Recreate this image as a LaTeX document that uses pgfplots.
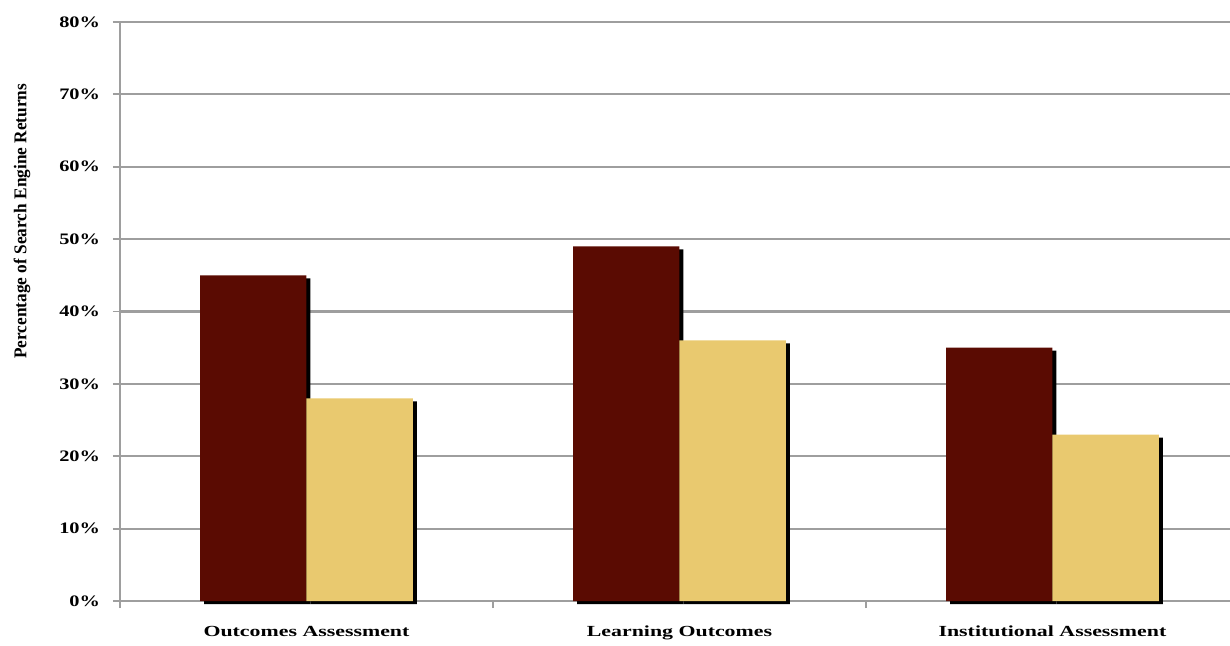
\documentclass[border=0pt]{standalone}
\usepackage{fontspec}
\setmainfont{Liberation Serif}
\usepackage{graphicx}
\usepackage{pgfplots}
\pgfplotsset{compat=1.18}

\definecolor{maroon}{HTML}{5A0B02}
\definecolor{sand}{HTML}{E9C96F}
\definecolor{gridgray}{HTML}{9E9E9E}
% bold, horizontally widened lettering
\newcommand\wide[1]{\scalebox{1.27}[1]{\bfseries #1}}
\newcommand\widecat[1]{\scalebox{1.42}[1]{\bfseries #1}}

\pgfplotstableread{
x first second
0 45 28
1 49 36
2 35 23
}\returns

\begin{document}
\begin{tikzpicture}
\begin{axis}[
  name=main, at={(0,0)}, anchor=south west,
  scale only axis, width=555pt, height=289.5pt,
  xmin=-0.5, xmax=2.476, ymin=0, ymax=80,
  clip=false,
  axis lines=left,
  axis line style={-, draw=gridgray, line width=0.9pt},
  tick align=outside,
  major tick length=3.5pt,
  tick style={draw=gridgray, line width=0.9pt},
  ymajorgrids,
  grid style={draw=gridgray, line width=0.9pt},
  ytick={0,10,...,80},
  yticklabels={\wide{0\%},\wide{10\%},\wide{20\%},\wide{30\%},\wide{40\%},\wide{50\%},\wide{60\%},\wide{70\%},\wide{80\%}},
  yticklabel style={font=\fontsize{8}{9.6}\selectfont, xshift=-3pt},
  xtick={-0.5,0.5,1.5},
  xticklabels={},
  extra x ticks={0,1,2},
  extra x tick labels={\widecat{Outcomes Assessment},\widecat{Learning Outcomes},\widecat{Institutional Assessment}},
  extra x tick style={major tick length=0pt, grid=none,
    xticklabel style={font=\fontsize{7.7}{9}\selectfont, anchor=north, yshift=-9pt}},
  bar width=0.285,
]
% stronger rule at 40%
\draw[gridgray, line width=1.3pt] (axis cs:-0.5,40) -- (axis cs:2.476,40);
% drop shadows
\addplot[ybar, bar shift=-0.1425, fill=black, draw=none, xshift=2pt, yshift=-1.5pt] table[x=x, y=first]{\returns};
\addplot[ybar, bar shift=0.1425, fill=black, draw=none, xshift=2pt, yshift=-1.5pt] table[x=x, y=second]{\returns};
% bars
\addplot[ybar, bar shift=-0.1425, fill=maroon, draw=none] table[x=x, y=first]{\returns};
\addplot[ybar, bar shift=0.1425, fill=sand, draw=none] table[x=x, y=second]{\returns};
\node[rotate=90, font=\fontsize{9}{10.8}\selectfont]
  at ([xshift=-49pt]rel axis cs:0,0.656) {\scalebox{0.96}[1]{\bfseries Percentage of Search Engine Returns}};
\end{axis}
\pgfresetboundingbox
\useasboundingbox (-60pt,-22pt) rectangle (555pt,300.5pt);
\end{tikzpicture}
\end{document}
